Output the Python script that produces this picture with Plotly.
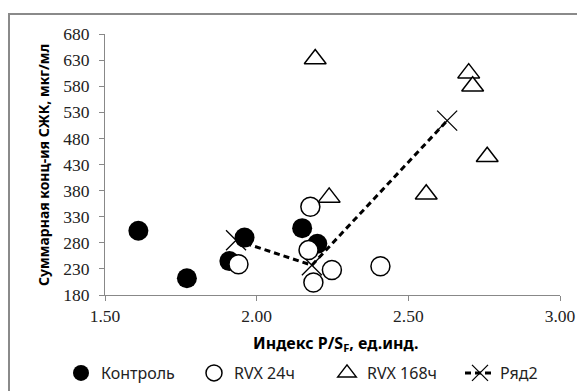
import plotly.graph_objects as go

# Data
ctrl_x = [1.61, 1.77, 1.91, 1.96, 2.15, 2.20]
ctrl_y = [303, 212, 245, 290, 308, 278]

rvx24_x = [1.94, 2.177, 2.171, 2.248, 2.187, 2.408]
rvx24_y = [239, 349, 266, 228, 204, 235]

rvx168_x = [2.193, 2.699, 2.712, 2.760, 2.559, 2.239]
rvx168_y = [632, 605, 580, 445, 373, 367]

ryad2_x = [1.932, 2.182, 2.628]
ryad2_y = [285, 237, 514]

names = ["Контроль", "RVX 24ч", "RVX 168ч", "Ряд2"]
x_title = "<b>Индекс P/S<sub>F</sub>, ед.инд.</b>"
y_title = "<b>Суммарная конц-ия СЖК, мкг/мл</b>"

# page has an 8px body margin; layout numbers are in figure coordinates
W, H = 585, 391
L, T = 97, 26
pw, ph = 455, 261
R, B = W - L - pw, H - T - ph


def px(xf):
    return (xf - L) / pw


def py(yf):
    return (ph - (yf - T)) / ph


fig = go.Figure()

fig.add_trace(go.Scatter(
    x=ryad2_x, y=ryad2_y, name=names[3], mode="lines+markers",
    line=dict(color="black", width=3, dash="6px,4px"),
    marker=dict(symbol="x-thin-open", size=20, color="black",
                line=dict(color="black", width=1.3)),
    legendrank=4,
))
fig.add_trace(go.Scatter(
    x=ctrl_x, y=ctrl_y, name=names[0], mode="markers",
    marker=dict(symbol="circle", size=20, color="black",
                line=dict(color="black", width=0)),
    legendrank=1,
))
fig.add_trace(go.Scatter(
    x=rvx24_x, y=rvx24_y, name=names[1], mode="markers",
    marker=dict(symbol="circle", size=19, color="white",
                line=dict(color="black", width=1.5)),
    legendrank=2,
))
fig.add_trace(go.Scatter(
    x=rvx168_x, y=rvx168_y, name=names[2], mode="markers",
    marker=dict(symbol="triangle-up", size=19, color="white",
                line=dict(color="black", width=1.5)),
    legendrank=3,
))

axis_common = dict(
    showgrid=False, zeroline=False, showline=True, linecolor="#888888",
    linewidth=1, ticks="outside", ticklen=5, tickcolor="#888888",
    automargin=False,
    tickfont=dict(family="Liberation Serif", size=17.5, color="#222222"),
)

fig.update_layout(
    width=W, height=H,
    margin=dict(l=L, r=R, t=T, b=B, autoexpand=False),
    paper_bgcolor="white", plot_bgcolor="white",
    xaxis=dict(range=[1.5, 3.0], dtick=0.5, tick0=1.5, tickformat=".2f",
               ticklabelstandoff=0, **axis_common),
    yaxis=dict(range=[180, 680], dtick=50, tick0=180, tickformat="d",
               ticklabelstandoff=6, **axis_common),
    showlegend=True,
    legend=dict(orientation="h", xref="paper", yref="paper",
                x=px(53), xanchor="left", y=py(365), yanchor="middle",
                font=dict(family="Noto Sans", size=16, color="#222222"),
                bgcolor="rgba(0,0,0,0)", entrywidth=88, entrywidthmode="pixels",
                traceorder="normal"),
    annotations=[
        dict(text=x_title, xref="paper", yref="paper",
             x=px(328), y=py(335),
             xanchor="center", yanchor="middle", showarrow=False,
             font=dict(family="Noto Sans", size=16, color="black")),
        dict(text=y_title, xref="paper", yref="paper",
             x=px(35), y=py(157), textangle=-90,
             xanchor="center", yanchor="middle", showarrow=False,
             font=dict(family="Noto Sans", size=14, color="black")),
    ],
    shapes=[dict(type="rect", xref="paper", yref="paper",
                 x0=px(1), x1=px(W + 10),
                 y0=py(H + 10), y1=py(6),
                 line=dict(color="#8a8a8a", width=2), fillcolor="rgba(0,0,0,0)",
                 layer="below")],
)

fig.write_html("out.html")
